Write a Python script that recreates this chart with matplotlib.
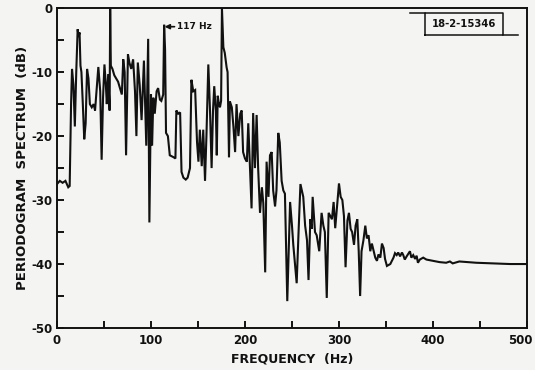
import matplotlib
matplotlib.use("Agg")
import matplotlib.pyplot as plt
from matplotlib.transforms import ScaledTranslation
from matplotlib.lines import Line2D

freq_hz = [0, 3, 6, 9, 12, 13.5, 15, 16, 17.5, 19, 20.5, 22, 23, 24, 25, 26, 27.5, 29, 30.5, 32,
           33.5, 35, 37, 39, 40.5, 42, 44, 46, 47.5, 49, 50.5, 52, 53, 54.5, 56, 56.6, 57.3, 59, 61, 63,
           65, 67, 69, 70.5, 72, 73.5, 75.5, 77, 79, 81, 83, 84.5, 86, 88, 90, 92.5, 95, 97, 98.3, 100,
           101.2, 102.5, 104, 106, 107.6, 109.5, 111, 113, 114, 115, 116, 118, 120, 124, 126, 127, 129, 131, 132.5, 134.5,
           137, 139, 141.5, 143, 145, 147, 149, 150.5, 152, 154, 155.6, 157.5, 159, 161, 162.8, 164.5, 166, 167.3, 169, 170,
           171, 172.3, 173.4, 174.6, 175.5, 177, 178.5, 180.5, 181.5, 183, 184, 186, 187.7, 189.5, 191, 193, 195, 196.5, 198, 200,
           202, 203.5, 205.3, 207, 208.7, 210.6, 212.4, 214, 216, 218, 219.5, 221.5, 223, 225, 226.6, 228.4, 230, 232, 233.5, 235.4,
           237, 239, 240.8, 242.5, 245, 248, 250, 251.4, 255, 257, 259, 262, 264, 266, 267.6, 269.5, 271, 272, 274.5, 276.3,
           279, 281.5, 283.4, 285, 287, 289, 290.8, 292.5, 294.3, 296, 298, 300, 301.8, 303.6, 305.3, 307, 309, 310.6, 312.4, 314,
           316, 317.7, 319.5, 321, 322.5, 324, 326, 328, 329.7, 331.5, 333.3, 335, 337, 338.6, 340.4, 342, 344, 345.7, 347.5, 349,
           351, 354.6, 358, 359.6, 361.4, 363, 365, 367, 368.4, 370, 372, 375.5, 377, 379, 381, 382.6, 384, 386, 389.6, 393,
           400, 407, 414, 418, 421, 428, 446, 464, 482, 500]
spectrum_db = [-27.5, -27.0, -27.3, -27.0, -28.0, -27.8, -15, -9.5, -12, -18.5, -10, -3.3, -4.5, -3.8, -9, -10, -15, -20.5, -18, -9.5,
               -11, -15, -15.5, -15, -16, -13, -9.2, -13, -23.7, -14, -8.8, -12, -15, -10.3, -16, 0, -9, -9.5, -10.5, -11,
               -11.5, -12.5, -13.5, -8, -10, -23, -7.2, -8.5, -9.5, -8, -13, -20, -8.5, -12, -17.5, -8.2, -21.5, -4.8, -33.5, -13.5,
               -21.5, -14, -16.5, -13, -12.5, -14.3, -14.5, -13.5, -2.6, -6.5, -19.5, -20, -23, -23.3, -23.5, -16, -16.5, -16.3, -25.6, -26.5,
               -26.8, -26.5, -25, -11.2, -13, -12.8, -21, -24, -19, -24.7, -19, -27, -20, -8.8, -16, -25, -16, -12.2, -16, -23,
               -13.7, -15, -15.5, -14.5, 0, -6.1, -7, -9.3, -10, -23.3, -14.6, -15.5, -18.5, -22.5, -15, -20, -16.5, -16, -22.5, -23.5,
               -24, -18, -25, -31.3, -16.4, -25, -16.7, -25, -32, -28, -30.5, -41.3, -24, -29.5, -23, -22.5, -28.5, -31, -28.5, -19.5,
               -21, -27, -28.5, -29, -45.8, -30.3, -34, -37, -43, -35, -27.5, -29.5, -34, -36.3, -42.5, -33, -34.5, -29.5, -35, -35.5,
               -38, -32, -34, -35, -45.3, -32, -32.5, -33, -30.3, -34.4, -31, -27.4, -29.5, -30, -32.5, -40.5, -33.2, -32, -34.5, -35,
               -37, -34, -33, -38, -45, -38, -36.3, -34, -36, -35.5, -38, -36.8, -38, -39, -39.5, -38.5, -39, -36.8, -37.5, -39.2,
               -40.3, -40, -39, -38.3, -38.6, -38.2, -38.8, -38.2, -38.6, -39.3, -38.8, -38, -39, -38.6, -39.2, -38.7, -39.8, -39.3, -39, -39.3,
               -39.5, -39.7, -39.8, -39.6, -39.9, -39.6, -39.8, -39.9, -40.0, -40.0]

x_ticks = [0, 100, 200, 300, 400, 500]
y_ticks = [0, -10, -20, -30, -40, -50]

bg = "#f4f4f2"
ink = "#111111"
plt.rcParams['font.family'] = ['DejaVu Sans']
fig = plt.figure(figsize=(5.35, 3.7), dpi=100, facecolor=bg)
ax = fig.add_axes([0.1065, 0.1135, 0.8785, 0.8645])
ax.set_facecolor(bg)

ax.plot(freq_hz, spectrum_db, color=ink, lw=1.5, solid_joinstyle="miter")
ax.set_xlim(0, 500)
ax.set_ylim(-50, 0)

ax.set_xticks(x_ticks)
ax.set_xticks([50, 150, 250, 350, 450], minor=True)
ax.set_yticks(y_ticks)
ax.set_yticks([-5, -15, -25, -35, -45], minor=True)
ax.set_xticklabels([str(v) for v in x_ticks], fontweight="bold", fontsize=8.5)
ax.set_yticklabels([str(v) for v in y_ticks], fontweight="bold", fontsize=8.5)
ax.tick_params(which="both", direction="in", length=5, width=1.4, color=ink, labelcolor=ink)
ax.tick_params(axis="x", which="both", pad=4)
ax.tick_params(axis="y", which="both", pad=3)
for s in ax.spines.values():
    s.set_linewidth(1.4)
    s.set_color(ink)

# shift the last x tick label a little left so it stays inside the figure
last = ax.get_xticklabels()[-1]
last.set_transform(last.get_transform() + ScaledTranslation(-7 / 100, 0, fig.dpi_scale_trans))

ax.set_xlabel("FREQUENCY  (Hz)", fontweight="bold", fontsize=9, color=ink, labelpad=4)
ax.set_ylabel("PERIODOGRAM  SPECTRUM  (dB)", fontweight="bold", fontsize=9.5, color=ink, labelpad=2)

ax.annotate("117 Hz", xy=(114.5, -2.9), xytext=(128, -2.9), fontsize=6.5, fontweight="bold",
            va="center", ha="left", color=ink,
            arrowprops=dict(arrowstyle="-|>", color=ink, lw=1.2, mutation_scale=7,
                            shrinkA=0, shrinkB=0))

# report-number box with its extended rules
bx0, bx1 = 425 / 535, 503 / 535
by0, by1 = 1 - 35 / 370, 1 - 13 / 370
fig.add_artist(Line2D([bx0, bx1, bx1, bx0, bx0], [by0, by0, by1, by1, by0], color=ink, lw=1.1))
fig.add_artist(Line2D([410 / 535, bx0], [by1, by1], color=ink, lw=1.1))
fig.add_artist(Line2D([bx1, 518 / 535], [by0, by0], color=ink, lw=1.1))
fig.text((bx0 + bx1) / 2, (by0 + by1) / 2, "18-2-15346", fontsize=7.2, fontweight="bold",
         ha="center", va="center", color=ink)

fig.savefig("out.png", dpi=100, facecolor=bg)
